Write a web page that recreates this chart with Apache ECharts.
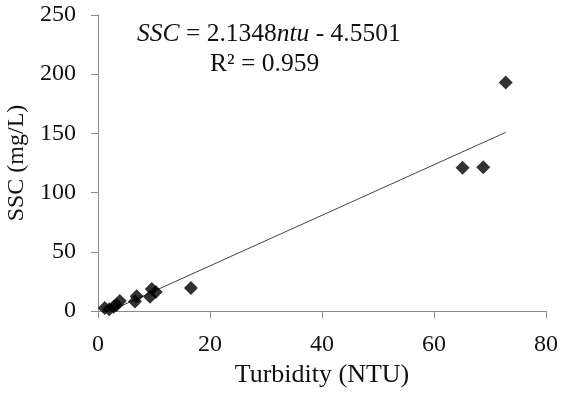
<!DOCTYPE html>
<html>
<head>
<meta charset="utf-8">
<script src="https://cdn.jsdelivr.net/npm/echarts@6/dist/echarts.min.js"></script>
<style>html,body{margin:0;padding:0;background:#fff}#c{width:561px;height:393px}</style>
</head>
<body>
<div id="c"></div>
<script>
var turbidity = [1.2, 2.0, 2.8, 3.3, 3.9, 6.6, 6.9, 9.3, 9.6, 10.3, 16.6, 65.1, 68.8, 72.8];
var ssc = [2.5, 1.5, 3.5, 5, 8.5, 8, 12.5, 12, 18.5, 16, 19.5, 121, 121.5, 193];
var slope = 2.1348, intercept = -4.5501;
var xTicks = [0, 20, 40, 60, 80];
var yTicks = [0, 50, 100, 150, 200, 250];

var pts = turbidity.map(function (x, i) { return [x, ssc[i]]; });
var xmin = Math.min.apply(null, turbidity), xmax = Math.max.apply(null, turbidity);
var trend = [[xmin, slope * xmin + intercept], [xmax, slope * xmax + intercept]];

var font = 'Liberation Serif';
var ink = '#111';
var chart = echarts.init(document.getElementById('c'));
chart.setOption({
  animation: false,
  backgroundColor: '#fff',
  textStyle: { fontFamily: font },
  grid: { left: 98, right: 15, top: 15, bottom: 82, containLabel: false, outerBoundsMode: 'none' },
  xAxis: {
    type: 'value', min: xTicks[0], max: xTicks[xTicks.length - 1], interval: xTicks[1] - xTicks[0],
    name: 'Turbidity (NTU)', nameLocation: 'middle', nameGap: 50,
    nameTextStyle: { fontFamily: font, fontSize: 26, color: ink },
    axisLine: { lineStyle: { color: '#8c8c8c', width: 1 } },
    axisTick: { show: true, length: 7, lineStyle: { color: '#8c8c8c' } },
    axisLabel: { fontFamily: font, fontSize: 24, color: ink, margin: 22 },
    splitLine: { show: false }
  },
  yAxis: {
    type: 'value', min: yTicks[0], max: yTicks[yTicks.length - 1], interval: yTicks[1] - yTicks[0],
    name: 'SSC (mg/L)', nameLocation: 'middle', nameGap: 47, nameRotate: 90,
    nameTextStyle: { fontFamily: font, fontSize: 24, color: ink },
    axisLine: { show: true, lineStyle: { color: '#8c8c8c', width: 1 } },
    axisTick: { show: true, length: 7, lineStyle: { color: '#8c8c8c' } },
    axisLabel: { fontFamily: font, fontSize: 24, color: ink, margin: 22 },
    splitLine: { show: false }
  },
  series: [
    {
      type: 'line', data: trend, symbol: 'none', clip: true,
      lineStyle: { color: '#444', width: 1 }, z: 1
    },
    {
      type: 'scatter', data: pts, symbol: 'diamond', symbolSize: 14,
      itemStyle: { color: '#000' }, z: 2
    }
  ],
  graphic: [
    {
      type: 'text', left: 137, top: 21,
      style: {
        text: '{i|SSC} = 2.1348{i|ntu} - 4.5501',
        fontFamily: font, fontSize: 25.5, fill: ink,
        rich: { i: { fontStyle: 'italic', fontFamily: font, fontSize: 25.5, fill: ink } }
      }
    },
    {
      type: 'text', left: 210, top: 51,
      style: { text: 'R² = 0.959', fontFamily: font, fontSize: 25.5, fill: ink }
    }
  ]
});
</script>
</body>
</html>
